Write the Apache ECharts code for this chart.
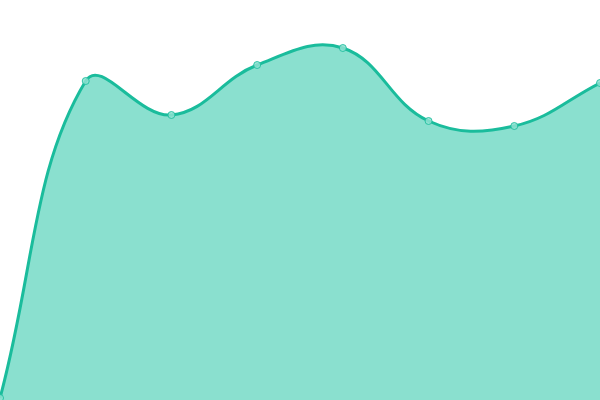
<!DOCTYPE html>
<html>
<head>
<meta charset="utf-8">
<script src="https://cdn.jsdelivr.net/npm/echarts@6/dist/echarts.min.js"></script>
<style>
  html, body { margin: 0; padding: 0; background: #fff; }
  #chart { width: 600px; height: 400px; }
</style>
</head>
<body>
<div id="chart"></div>
<script>
// categories and values (axes hidden)
var categories = ['1', '2', '3', '4', '5', '6', '7', '8'];
var values = [2, 319, 285, 335, 352, 279, 274, 317];

var tension = 0.4;
var lineColor = '#1abc9c';
var areaColor = '#8ae0cf';

// spline control points, distance weighted, no clamping to neighbours
function splinePoints(pts, t, w, h) {
    var out = [];
    for (var i = 0; i < pts.length; i++) {
        var cur = pts[i];
        var prev = pts[i - 1] || cur;
        var next = pts[i + 1] || cur;
        var d01 = Math.sqrt(Math.pow(cur[0] - prev[0], 2) + Math.pow(cur[1] - prev[1], 2));
        var d12 = Math.sqrt(Math.pow(next[0] - cur[0], 2) + Math.pow(next[1] - cur[1], 2));
        var s01 = d01 / (d01 + d12) || 0;
        var s12 = d12 / (d01 + d12) || 0;
        var fa = t * s01, fb = t * s12;
        var cpPrev = [cur[0] - fa * (next[0] - prev[0]), cur[1] - fa * (next[1] - prev[1])];
        var cpNext = [cur[0] + fb * (next[0] - prev[0]), cur[1] + fb * (next[1] - prev[1])];
        [cpPrev, cpNext].forEach(function (p) {
            p[0] = Math.max(0, Math.min(w, p[0]));
            p[1] = Math.max(0, Math.min(h, p[1]));
        });
        out.push({ prev: cpPrev, next: cpNext });
    }
    return out;
}

function renderCurve(params, api) {
    if (params.dataIndex !== 0) return null;
    var pts = values.map(function (v, i) { return api.coord([i, v]); });
    var cps = splinePoints(pts, tension, 600, 400);
    var d = 'M' + pts[0][0] + ',' + pts[0][1];
    for (var i = 1; i < pts.length; i++) {
        d += ' C' + cps[i - 1].next[0] + ',' + cps[i - 1].next[1] + ' ' +
            cps[i].prev[0] + ',' + cps[i].prev[1] + ' ' + pts[i][0] + ',' + pts[i][1];
    }
    var base = api.coord([0, 0])[1];
    var area = d + ' L' + pts[pts.length - 1][0] + ',' + base + ' L' + pts[0][0] + ',' + base + ' Z';
    return {
        type: 'group',
        children: [{
            type: 'path',
            shape: { pathData: area },
            style: { fill: areaColor, stroke: null }
        }, {
            type: 'path',
            shape: { pathData: d },
            style: { fill: null, stroke: lineColor, lineWidth: 3 }
        }]
    };
}

var myChart = echarts.init(document.getElementById('chart'));
var option = {
    animation: false,
    grid: { left: 0, right: 0, top: 0, bottom: 0 },
    xAxis: {
        type: 'category',
        data: categories,
        boundaryGap: false,
        show: false
    },
    yAxis: {
        type: 'value',
        min: 0,
        max: 400,
        show: false
    },
    series: [{
        type: 'custom',
        data: values,
        clip: false,
        renderItem: renderCurve,
        z: 1
    }, {
        type: 'line',
        data: values,
        clip: false,
        symbol: 'circle',
        symbolSize: 7,
        showAllSymbol: true,
        lineStyle: { opacity: 0 },
        itemStyle: { color: '#8ee2d1', borderColor: lineColor, borderWidth: 1, opacity: 0.85 },
        z: 3
    }]
};
myChart.setOption(option);
</script>
</body>
</html>
